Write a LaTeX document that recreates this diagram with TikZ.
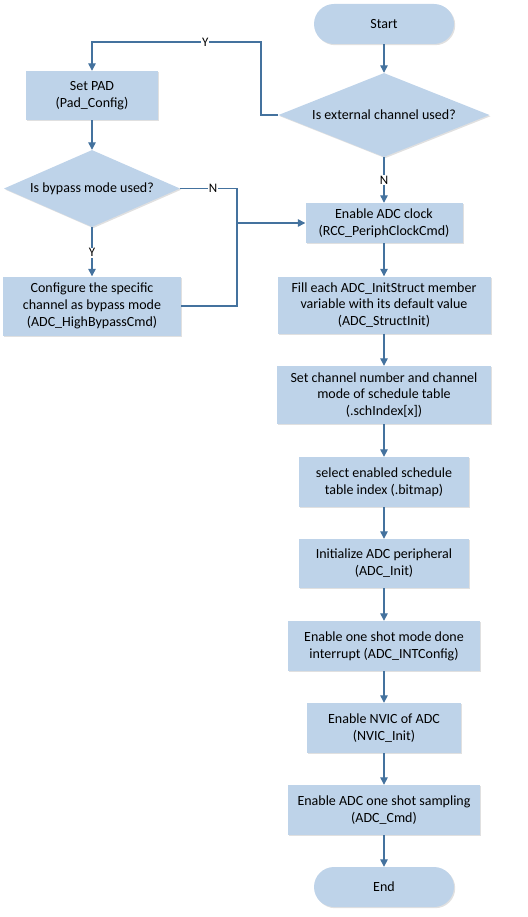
\documentclass[tikz,border=0pt]{standalone}
\usepackage{fontspec}
\setmainfont{Carlito}
\usetikzlibrary{shapes.geometric,arrows.meta,shadows}
\definecolor{boxfill}{RGB}{190,211,233}
\definecolor{lineblue}{RGB}{68,114,158}
\begin{document}
\begin{tikzpicture}[x=1pt,y=-1pt,
  font=\fontsize{14}{16.8}\selectfont,
  base/.style={fill=boxfill,draw=none,inner sep=0pt,align=center,
     drop shadow={shadow xshift=1.2pt,shadow yshift=-1.2pt,opacity=0.12,fill=black}},
  proc/.style={base,rectangle},
  term/.style={base,rectangle,rounded corners=20pt,minimum width=140pt,minimum height=40pt},
  dec/.style={base,diamond},
  conn/.style={draw=lineblue,line width=1.3pt},
  arr/.style={conn,-{Triangle[width=7.5pt,length=7.5pt]}},
  lbl/.style={fill=white,inner sep=1pt,font=\fontsize{13}{15}\selectfont}]
\useasboundingbox (0,0) rectangle (527,917);
% right column
\node[term] (start) at (384,24) {Start};
\node[dec,aspect=2.5,minimum width=211pt,minimum height=84pt] (d1) at (384,115) {Is external channel used?};
\node[proc,minimum width=157pt,minimum height=40pt] (clk) at (384,223) {Enable ADC clock\\(RCC\_PeriphClockCmd)};
\node[proc,minimum width=213pt,minimum height=57pt] (fill) at (384,305) {Fill each ADC\_InitStruct member\\variable with its default value\\(ADC\_StructInit)};
\node[proc,minimum width=214pt,minimum height=58pt] (sch) at (384,395) {Set channel number and channel\\mode of schedule table\\(.schIndex[x])};
\node[proc,minimum width=170pt,minimum height=50pt] (bmp) at (384,482) {select enabled schedule\\table index (.bitmap)};
\node[proc,minimum width=170pt,minimum height=49pt] (init) at (384,563.5) {Initialize ADC peripheral\\(ADC\_Init)};
\node[proc,minimum width=192pt,minimum height=50pt] (intc) at (384,646) {Enable one shot mode done\\interrupt (ADC\_INTConfig)};
\node[proc,minimum width=154pt,minimum height=50pt] (nvic) at (384,728) {Enable NVIC of ADC\\(NVIC\_Init)};
\node[proc,minimum width=192pt,minimum height=50pt] (cmd) at (384,810) {Enable ADC one shot sampling\\(ADC\_Cmd)};
\node[term] (end) at (384,887) {End};
% left column
\node[proc,minimum width=132pt,minimum height=49pt] (pad) at (92,95.5) {Set PAD\\(Pad\_Config)};
\node[dec,aspect=2.29,minimum width=176pt,minimum height=77pt] (d2) at (92,188.5) {Is bypass mode used?};
\node[proc,minimum width=178pt,minimum height=59pt] (cfg) at (92,306) {Configure the specific\\channel as bypass mode\\(ADC\_HighBypassCmd)};
% junction coordinates
\coordinate (yc) at (261,42);
\coordinate (jt) at (237,188.5);
\coordinate (jm) at (237,223);
\coordinate (jb) at (237,306);
% connectors
\draw[arr] (start) -- (d1);
\draw[arr] (d1.south) -- node[lbl,pos=0.5]{N} (clk.north);
\draw[arr] (d1.west) -| (yc) -- node[lbl,pos=0.33]{Y} (pad.north |- yc) -- (pad.north);
\draw[arr] (pad) -- (d2);
\draw[arr] (d2.south) -- node[lbl,pos=0.52]{Y} (cfg.north);
\draw[conn] (d2.east) -- node[lbl,pos=0.58]{N} (jt) -- (jb) -- (cfg.east);
\draw[arr] (jm) -- (clk.west);
\draw[arr] (clk) -- (fill);
\draw[arr] (fill) -- (sch);
\draw[arr] (sch) -- (bmp);
\draw[arr] (bmp) -- (init);
\draw[arr] (init) -- (intc);
\draw[arr] (intc) -- (nvic);
\draw[arr] (nvic) -- (cmd);
\draw[arr] (cmd) -- (end);
\end{tikzpicture}
\end{document}
